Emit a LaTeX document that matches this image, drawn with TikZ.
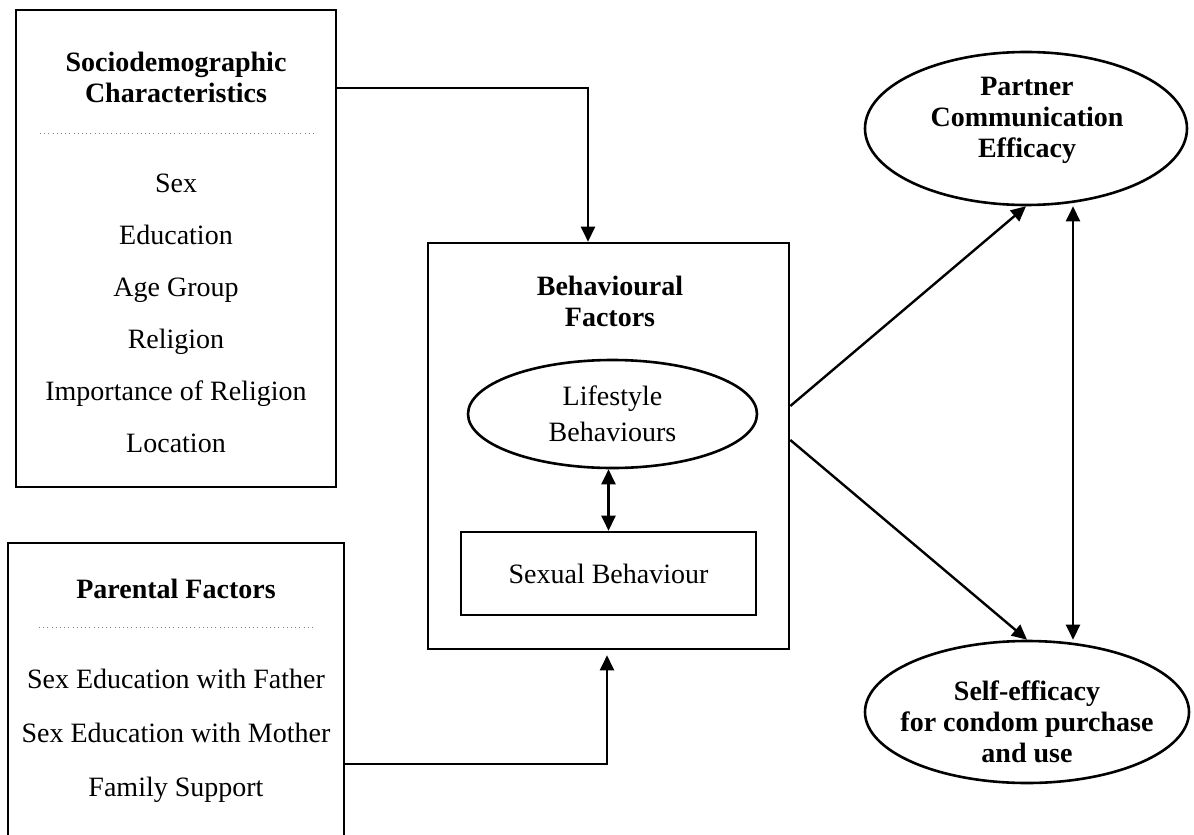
\documentclass[tikz,border=0pt]{standalone}
\usepackage{fontspec}
\setmainfont{Liberation Serif}
\usetikzlibrary{arrows.meta,shapes.geometric}

\begin{document}
\begin{tikzpicture}[x=0.5pt,y=-0.5pt,
  box/.style={draw,line width=1.3pt,inner sep=0pt},
  oval/.style={draw,ellipse,line width=1.3pt,inner sep=0pt},
  txt/.style={font=\fontsize{14}{15.5}\selectfont,align=center,anchor=base},
  ttl/.style={txt,font=\fontsize{14}{15.5}\selectfont\bfseries},
  dots/.style={gray,line width=0.5pt,dash pattern=on 0.5pt off 1.6pt},
  arr/.style={line width=1.2pt,-{Triangle[length=7.5pt,width=7pt]}},
  dbl/.style={line width=1.2pt,{Triangle[length=7.5pt,width=7pt]}-{Triangle[length=7.5pt,width=7pt]}}]
\useasboundingbox (0,0) rectangle (1194,835);

% left column
\node[box,minimum width=160pt,minimum height=238.5pt] (soc) at (176,248.5) {};
\node[ttl] (soct) at (176,102) {Sociodemographic\\Characteristics};
\draw[dots] (40,133) -- (314,133);
\foreach \t [count=\i] in {Sex,Education,Age Group,Religion,Importance of Religion,Location}
  \node[txt] (s\i) at (176,140+52*\i) {\t};

\node[box,minimum width=168pt,minimum height=153.5pt] (par) at (176,696.5) {};
\node[ttl] (part) at (176,598) {Parental Factors};
\draw[dots] (39,627) -- (313,627);
\foreach \t [count=\i] in {Sex Education with Father,Sex Education with Mother,Family Support}
  \node[txt] (p\i) at (176,634+54*\i) {\t};

% middle
\node[box,minimum width=180.5pt,minimum height=203pt] (beh) at (608.5,446) {};
\node[ttl] (beht) at (610,326) {Behavioural\\Factors};
\node[oval,minimum width=144.5pt,minimum height=54pt,font=\fontsize{14}{18}\selectfont,align=center] (life) at (612.5,414) {Lifestyle\\Behaviours};
\node[box,minimum width=147.5pt,minimum height=41.5pt,font=\fontsize{14}{15.5}\selectfont] (sex) at (608.5,573.5) {Sexual Behaviour};

% right
\node[oval,minimum width=161pt,minimum height=76.5pt] (pce) at (1026,128.5) {};
\node[ttl] (pcet) at (1027,157) {Partner\\Communication\\Efficacy};
\node[oval,minimum width=162pt,minimum height=71pt] (sce) at (1027,712) {};
\node[ttl] (scet) at (1027,762) {Self-efficacy\\for condom purchase\\and use};

% connectors
\coordinate (c1) at (588,88);
\coordinate (c2) at (607,764);
\coordinate (c3) at (1073,0);
\draw[arr] (soc.east |- c1) -- (c1) -- (beh.north -| c1);
\draw[arr,shorten >=2.5pt] (par.east |- c2) -- (c2) -- (beh.south -| c2);
\draw[dbl] (life.south -| sex.north) -- (sex.north);
\draw[arr] ([yshift=20pt]beh.east) -- (pce.south);
\draw[arr] ([yshift=3pt]beh.east) -- (sce.north);
\draw[dbl] (pce.south -| c3) -- (sce.north -| c3);
\end{tikzpicture}
\end{document}
